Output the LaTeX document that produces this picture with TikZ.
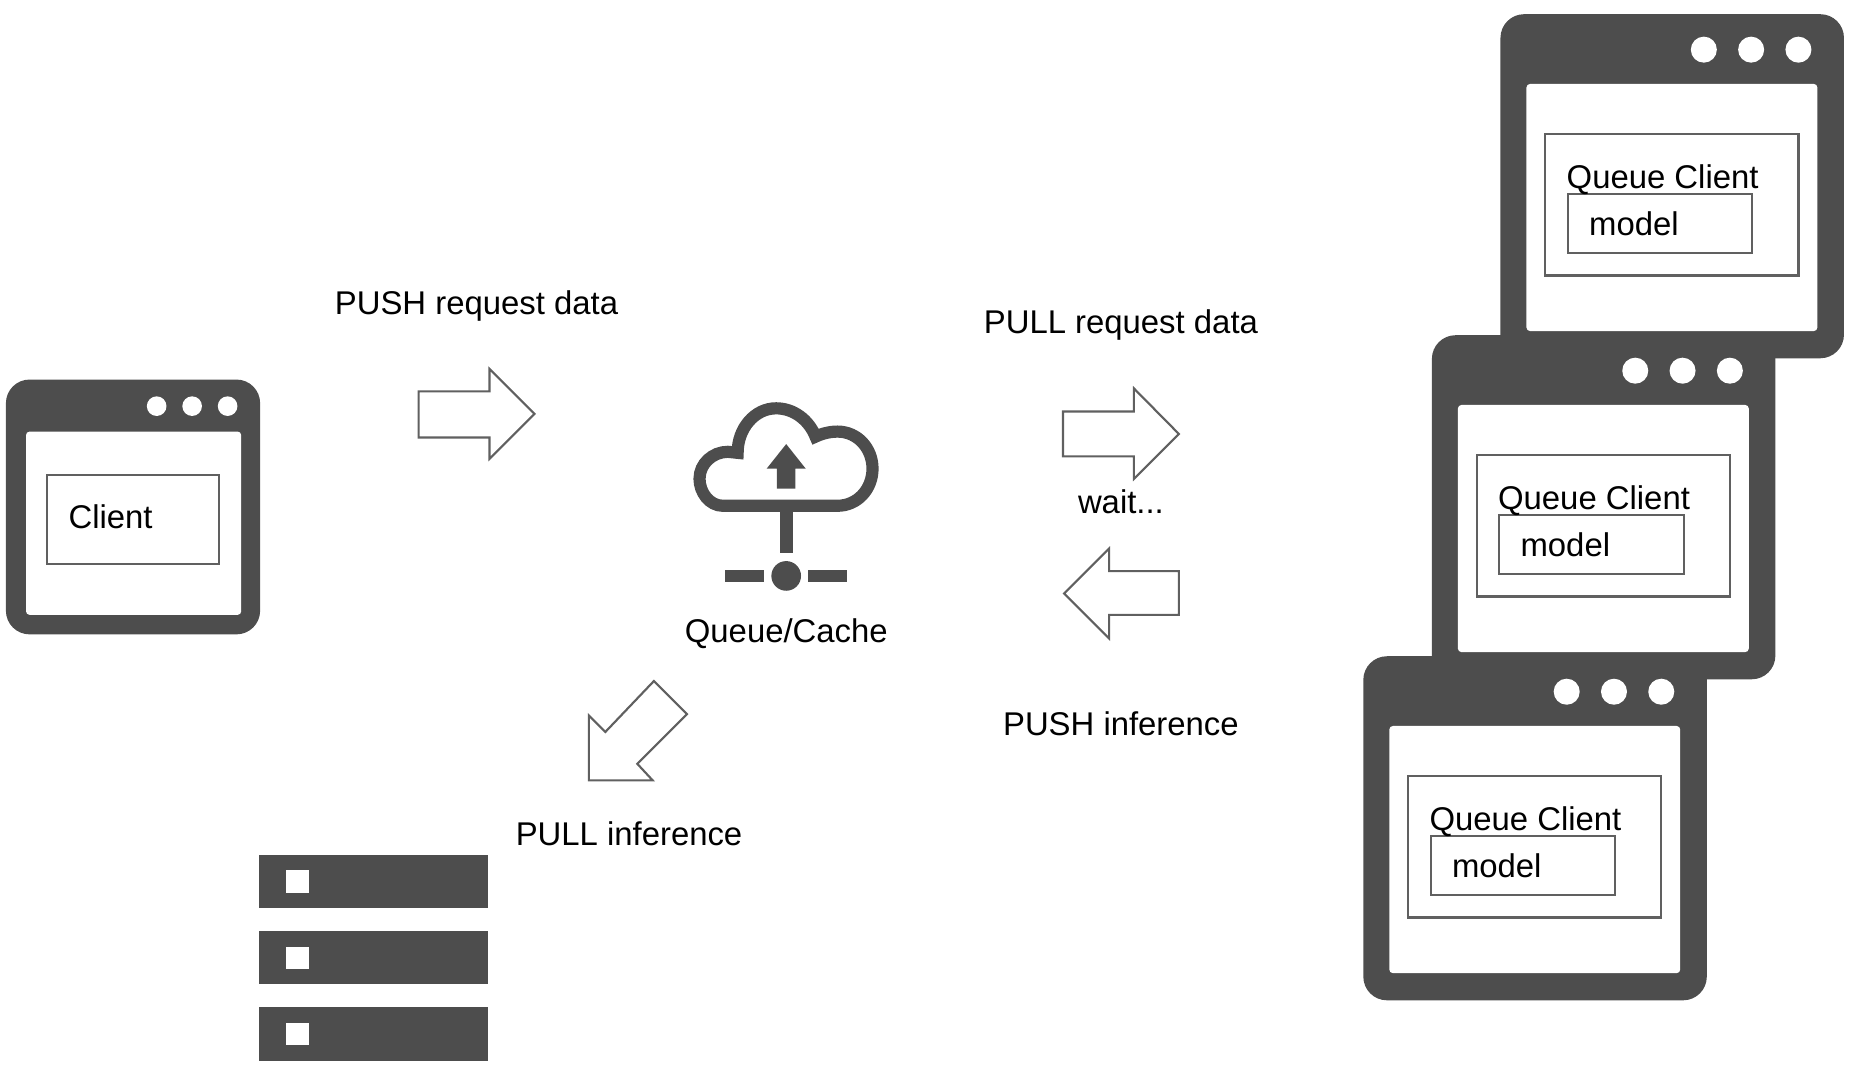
\documentclass[tikz,border=0pt]{standalone}
\usepackage{fontspec}
\setmainfont{Liberation Sans}
\definecolor{ink}{HTML}{4D4D4D}
\definecolor{edgeg}{HTML}{606060}
\tikzset{
  lbl/.style={inner sep=0pt,outer sep=0pt,text=black,font=\fontsize{27.8}{33}\selectfont},
  thinbox/.style={draw=edgeg,line width=1.8pt,fill=white},
  blockarrow/.style={draw=edgeg,line width=1.8pt,fill=white,line join=miter},
  frame/.style={fill=ink,rounded corners=20pt},
  pane/.style={fill=white,rounded corners=3pt},
  dot/.style={fill=white},
  rack/.style={fill=ink},
  cloudline/.style={draw=ink,line width=10.3pt,line join=miter}
}
\newcommand{\qwin}[3]{%
  \begin{scope}[shift={(#2,#3)}]
    \fill[frame] (0,0) rectangle (290.5,291);
    \fill[pane] (22,59) rectangle (268,268);
    \fill[dot] (172,30) circle (11) (212,30) circle (11) (252,30) circle (11);
    \draw[thinbox] (38,101) rectangle (252,221);
    \draw[thinbox] (57,152) rectangle (213,202);
    \node[lbl,anchor=base west] (qc#1) at (56,147) {Queue Client};
    \node[lbl,anchor=base west] (md#1) at (75,187) {model};
  \end{scope}}
\begin{document}
\begin{tikzpicture}[x=1pt,y=-1pt]
\useasboundingbox (0,0) rectangle (1568,906.6);
% client window
\fill[frame] (5,321) rectangle (220,536.5);
\fill[pane] (22,365) rectangle (204,520);
\fill[dot] (132.5,343.5) circle (8.3) (162.5,343.5) circle (8.3) (192.5,343.5) circle (8.3);
\draw[thinbox] (40,402) rectangle (185,477);
\node[lbl,anchor=base west] (client) at (58,447) {Client};
% queue client windows
\qwin{a}{1269}{12}
\qwin{b}{1211}{283.5}
\qwin{c}{1153}{555}
% block arrows
\draw[blockarrow] (354,331) -- (414,331) -- (414,312) -- (452,350) -- (414,388) -- (414,370) -- (354,370) -- cycle;
\draw[blockarrow] (899,348) -- (959,348) -- (959,328.5) -- (997,367) -- (959,405) -- (959,386) -- (899,386) -- cycle;
\draw[blockarrow] (997,483) -- (938,483) -- (938,464) -- (900,502) -- (938,540) -- (938,520) -- (997,520) -- cycle;
\draw[blockarrow] (553,576) -- (581,604) -- (539,646) -- (552,660) -- (498,660) -- (498,605) -- (512,619) -- cycle;
% cloud icon
\begin{scope}[shift={(557.1,320.8)},x=.2852pt,y=-.2852pt]
  \draw[cloudline] (190,375) .. controls (150,375) and (121,335) .. (121,295)
     .. controls (121,250) and (160,215) .. (205,215) -- (234,218)
     .. controls (234,145) and (285,86) .. (348,86)
     .. controls (400,86) and (445,120) .. (465,170)
     .. controls (490,158) and (515,155) .. (530,155)
     .. controls (590,155) and (634,205) .. (634,265)
     .. controls (634,325) and (590,375) .. (530,375) -- cycle;
  \fill[ink] (378,192) -- (436,265) -- (405,265) -- (405,324) -- (350,324) -- (350,265) -- (320,265) -- cycle;
  \fill[ink] (360,390) rectangle (397,516);
  \fill[ink] (378,583) circle (44);
  \fill[ink] (196,565) rectangle (311,601);
  \fill[ink] (444,565) rectangle (559,601);
\end{scope}
% server rack
\foreach \yy in {723,787.5,852}{
  \fill[rack] (219,\yy) rectangle (412.5,\yy+45);
  \fill[white] (242,\yy+13) rectangle (261,\yy+32);
}
% labels
\node[lbl,anchor=base] (pushreq) at (403,266) {PUSH request data};
\node[lbl,anchor=base] (pullreq) at (948,282) {PULL request data};
\node[lbl,anchor=base] (wait) at (948,434) {wait...};
\node[lbl,anchor=base] (queue) at (665,543) {Queue/Cache};
\node[lbl,anchor=base] (pushinf) at (948,622) {PUSH inference};
\node[lbl,anchor=base] (pullinf) at (532,715) {PULL inference};
\end{tikzpicture}
\end{document}
